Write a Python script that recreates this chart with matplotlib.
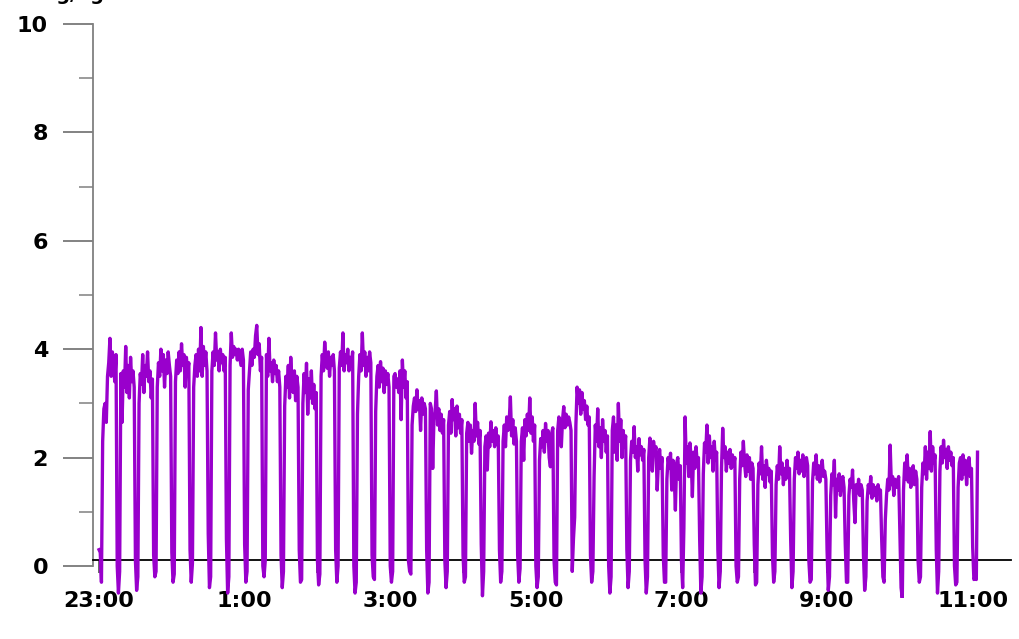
import matplotlib
matplotlib.use("Agg")
import matplotlib.pyplot as plt
import matplotlib.ticker as ticker
import numpy as np

# one reading per minute, starting 23:00; each row = one 15-minute cycle
h23 = [0.30, 0.25, -0.30, 2.30, 2.90, 3.00, 2.65, 3.50, 3.75, 4.20, 3.50, 3.95, 3.70, 3.40, 3.90,
       0.00, -0.50, -0.10, 3.55, 2.65, 3.60, 3.30, 4.05, 3.20, 3.70, 3.10, 3.85, 3.40, 3.60, 3.30,
       0.10, -0.45, -0.20, 3.00, 3.55, 3.35, 3.90, 3.20, 3.70, 3.50, 3.95, 3.40, 3.60, 3.10, 3.45,
       0.20, -0.20, -0.10, 3.30, 3.75, 3.50, 4.00, 3.60, 3.90, 3.30, 3.80, 3.55, 3.95, 3.70, 3.50]
h00 = [0.25, -0.30, -0.15, 3.40, 3.80, 3.55, 3.95, 3.60, 4.10, 3.70, 3.90, 3.30, 3.85, 3.60, 3.75,
       0.30, -0.30, 0.05, 3.30, 3.70, 3.90, 3.50, 4.00, 3.60, 4.40, 3.50, 4.05, 3.70, 3.95, 3.60,
       0.60, -0.40, -0.20, 3.60, 3.95, 3.70, 4.30, 3.80, 3.95, 3.60, 4.00, 3.75, 3.90, 3.60, 3.85,
       0.50, -0.50, -0.20, 3.70, 4.30, 3.85, 4.05, 3.90, 4.00, 3.80, 4.00, 3.85, 3.70, 4.00, 3.80]
h01 = [0.40, -0.30, -0.10, 3.25, 3.60, 3.95, 3.70, 4.00, 3.85, 4.25, 4.44, 3.90, 4.10, 3.60, 3.85,
       0.00, -0.20, 0.10, 3.90, 3.50, 4.20, 3.60, 3.75, 3.40, 3.80, 3.55, 3.70, 3.40, 3.60, 3.30,
       0.20, -0.40, -0.10, 2.95, 3.50, 3.30, 3.70, 3.10, 3.85, 3.40, 3.20, 3.60, 3.05, 3.50, 3.30,
       0.30, -0.30, -0.25, 3.00, 3.55, 3.20, 3.74, 2.80, 3.45, 3.10, 3.60, 3.00, 3.35, 2.90, 3.20]
h02 = [0.10, -0.35, -0.15, 3.50, 3.90, 3.60, 4.13, 3.80, 3.65, 3.95, 3.50, 3.85, 3.70, 3.90, 3.60,
       0.30, -0.30, 0.00, 3.65, 3.95, 3.70, 4.30, 3.60, 3.90, 3.75, 4.00, 3.60, 3.85, 3.70, 3.95,
       0.00, -0.50, -0.30, 2.80, 3.50, 3.90, 3.60, 4.30, 3.70, 3.95, 3.50, 3.85, 3.60, 3.95, 3.75,
       0.20, -0.20, -0.25, 2.85, 3.50, 3.70, 3.30, 3.77, 3.40, 3.65, 3.20, 3.60, 3.35, 3.55, 3.30]
h03 = [0.00, -0.30, -0.10, 3.50, 3.55, 3.30, 3.45, 3.20, 3.60, 2.70, 3.80, 3.30, 3.60, 3.10, 3.40,
       0.10, -0.10, -0.15, 2.60, 2.95, 3.10, 2.85, 3.25, 2.90, 3.05, 2.50, 3.10, 2.80, 3.00, 2.90,
       0.30, -0.50, -0.30, 3.00, 2.90, 1.80, 2.70, 2.85, 3.23, 2.60, 2.90, 2.50, 2.80, 2.45, 2.70,
       0.10, -0.40, -0.10, 2.60, 2.85, 2.45, 3.07, 2.70, 2.90, 2.40, 2.95, 2.55, 2.80, 2.45, 2.70]
h04 = [0.20, -0.30, -0.20, 2.45, 2.65, 2.30, 2.60, 2.08, 2.50, 2.30, 3.00, 2.40, 2.65, 2.25, 2.50,
       0.40, -0.55, -0.10, 2.20, 2.40, 1.77, 2.45, 2.20, 2.66, 2.30, 2.50, 2.20, 2.55, 2.25, 2.40,
       0.30, -0.30, -0.10, 2.30, 2.60, 2.20, 2.75, 2.50, 2.65, 3.12, 2.40, 2.70, 2.25, 2.55, 2.30,
       0.20, -0.30, -0.05, 2.30, 2.55, 1.95, 2.70, 2.40, 2.80, 2.50, 3.10, 2.45, 2.75, 2.30, 2.60]
h05 = [0.00, -0.40, -0.20, 1.95, 2.35, 2.20, 2.50, 2.10, 2.63, 2.30, 2.50, 2.00, 1.83, 2.45, 2.55,
       0.10, -0.30, -0.35, 2.50, 2.75, 2.60, 2.20, 2.70, 2.94, 2.55, 2.80, 2.60, 2.75, 2.65, 2.50,
       -0.10, 0.50, 0.90, 2.60, 3.30, 3.00, 3.25, 2.80, 3.20, 2.90, 3.05, 2.70, 2.95, 2.60, 2.75,
       0.20, -0.30, -0.10, 1.65, 2.60, 2.30, 2.90, 2.20, 2.55, 2.00, 2.70, 2.30, 2.50, 2.10, 2.40]
h06 = [0.00, -0.50, -0.20, 2.50, 2.75, 2.10, 2.60, 1.95, 3.00, 2.30, 2.70, 2.00, 2.50, 2.20, 2.40,
       0.30, -0.40, -0.10, 1.95, 2.30, 2.10, 2.57, 2.00, 2.20, 1.75, 2.35, 2.05, 2.20, 1.95, 2.15,
       0.10, -0.50, -0.20, 2.00, 2.36, 2.20, 1.75, 2.30, 2.10, 2.20, 1.40, 1.90, 2.15, 1.80, 2.00,
       0.20, -0.30, -0.30, 1.60, 2.00, 1.80, 2.08, 1.40, 1.95, 1.70, 1.03, 1.90, 2.00, 1.60, 1.85]
h07 = [0.10, -0.40, 0.70, 2.75, 1.90, 2.20, 1.65, 2.27, 2.00, 1.28, 2.10, 1.80, 2.20, 1.90, 2.00,
       0.50, -0.50, -0.20, 1.70, 2.27, 2.10, 2.60, 1.90, 2.40, 2.00, 2.20, 1.75, 2.30, 1.95, 2.10,
       0.30, -0.40, -0.10, 1.80, 2.54, 2.00, 2.20, 1.75, 2.10, 1.90, 2.15, 1.80, 2.05, 1.85, 2.00,
       0.00, -0.30, -0.20, 1.60, 2.10, 1.85, 2.30, 1.90, 1.65, 2.05, 1.75, 2.00, 1.60, 1.90, 1.80]
h08 = [0.40, -0.35, -0.30, 1.50, 1.90, 1.70, 2.20, 1.60, 1.85, 1.45, 1.95, 1.70, 1.80, 1.55, 1.75,
       0.20, -0.30, -0.10, 1.50, 1.85, 1.60, 2.20, 1.70, 1.90, 1.50, 1.80, 1.60, 1.95, 1.65, 1.80,
       0.50, -0.40, -0.10, 1.60, 2.00, 1.80, 2.10, 1.70, 1.95, 1.75, 2.05, 1.65, 1.90, 2.00, 1.85,
       0.10, -0.30, -0.25, 1.55, 1.90, 1.70, 2.05, 1.60, 1.85, 1.55, 1.80, 1.95, 1.65, 1.75, 1.60]
h09 = [0.30, -0.45, -0.20, 1.30, 1.70, 1.50, 1.95, 0.90, 1.60, 1.40, 1.70, 1.30, 1.55, 1.65, 1.45,
       0.40, -0.30, -0.30, 1.30, 1.60, 1.45, 1.77, 1.20, 0.80, 1.50, 1.35, 1.60, 1.30, 1.50, 1.40,
       0.20, -0.45, -0.20, 1.20, 1.50, 1.35, 1.65, 1.25, 1.50, 1.30, 1.45, 1.20, 1.50, 1.35, 1.40,
       0.50, -0.20, -0.30, 0.85, 1.30, 1.60, 1.40, 2.23, 1.50, 1.65, 1.30, 1.60, 1.45, 1.55, 1.65]
h10 = [0.60, -0.40, -0.60, 1.40, 1.90, 1.60, 2.05, 1.55, 1.80, 1.45, 1.70, 1.85, 1.50, 1.75, 1.60,
       0.10, -0.30, -0.20, 1.45, 1.90, 1.70, 2.20, 1.60, 2.10, 1.80, 2.48, 1.75, 2.20, 1.90, 2.05,
       0.30, -0.50, -0.10, 1.75, 2.20, 1.90, 2.32, 2.00, 2.15, 1.80, 2.20, 1.95, 2.10, 1.85, 2.00,
       0.00, -0.35, -0.30, 1.45, 1.90, 2.00, 1.60, 2.05, 1.70, 1.95, 1.50, 1.85, 2.00, 1.65, 1.80]
h11 = [0.35, -0.25, -0.20, -0.25, 2.10]

hour_labels = ["23:00", "", "1:00", "", "3:00", "", "5:00", "", "7:00", "", "9:00", "", "11:00"]

values = np.array(h23 + h00 + h01 + h02 + h03 + h04 + h05 + h06 + h07 + h08 + h09 + h10 + h11)
hours = np.arange(len(values)) / 60.0

plt.rcParams["font.family"] = "DejaVu Sans"

fig = plt.figure(figsize=(10.19, 6.39), dpi=100)
ax = fig.add_axes([0.0916, 0.0634, 0.9008, 0.899])

ax.plot(hours, values, color="#9900cc", linewidth=2.4, zorder=3)

ax.set_xlim(-0.078, 12.53)
ax.set_ylim(-0.6, 10)

for side in ("top", "right"):
    ax.spines[side].set_visible(False)
ax.spines["left"].set_bounds(0, 10)
ax.spines["left"].set_color("#808080")
ax.spines["left"].set_linewidth(1.3)
ax.spines["bottom"].set_position(("data", 0.11))
ax.spines["bottom"].set_color("black")
ax.spines["bottom"].set_linewidth(1.3)

ax.yaxis.set_major_locator(ticker.MultipleLocator(2))
ax.yaxis.set_minor_locator(ticker.MultipleLocator(1))
ax.tick_params(axis="y", which="major", length=21.6, width=1.1, color="#606060",
               pad=11, labelsize=16)
ax.tick_params(axis="y", which="minor", length=10, width=1.1, color="#808080")

ax.set_xticks(range(13))
ax.set_xticklabels(hour_labels)
ax.tick_params(axis="x", which="major", length=9, width=1.1, color="#404040",
               pad=13, labelsize=16)

for lbl in ax.get_xticklabels() + ax.get_yticklabels():
    lbl.set_fontweight("bold")

# axis title sits above the canvas, only its descenders show
fig.text(0.036, 1.0, "mg/kg", fontsize=14, fontweight="bold", ha="left", va="baseline")

fig.savefig("out.png", dpi=100)
